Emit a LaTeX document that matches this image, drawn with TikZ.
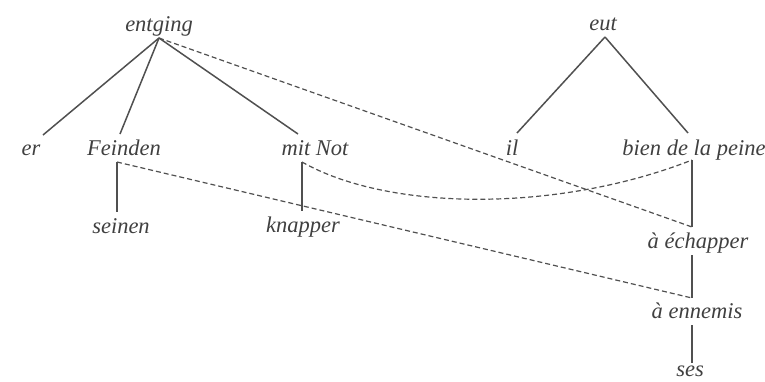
\documentclass[tikz,border=0pt]{standalone}
\usepackage{fontspec}
\setmainfont{Liberation Serif}
\definecolor{txt}{HTML}{404040}
\definecolor{ln}{HTML}{505050}
\begin{document}
\begin{tikzpicture}[x=1pt,y=-1pt,
  word/.style={anchor=base,inner sep=0pt,outer sep=0pt,text height=16pt,text depth=5pt,
    font=\fontsize{22.5}{26}\selectfont\itshape,text=txt},
  tie/.style={draw=ln,line width=1.5pt},
  corr/.style={draw=ln,line width=1.2pt,dash pattern=on 5pt off 3pt}]
\useasboundingbox (0,0) rectangle (765,381);
% nodes
\node[word] (entging) at (159,31) {entging};
\node[word] (eut) at (603,30) {eut};
\node[word] (er) at (31,155) {er};
\node[word] (Feinden) at (124,155) {Feinden};
\node[word] (mitNot) at (315,155) {mit Not};
\node[word] (il) at (512,155) {il};
\node[word] (bien) at (694,155) {bien de la peine};
\node[word] (seinen) at (121,233) {seinen};
\node[word] (knapper) at (303,232) {knapper};
\node[word] (echapper) at (698,248) {à échapper};
\node[word] (ennemis) at (697,318) {à ennemis};
\node[word,text depth=0pt] (ses) at (690,376) {ses};
% attachment points
\coordinate (entA) at ([yshift=-2pt]entging.south);
\coordinate (eutA) at ([xshift=2pt,yshift=-2pt]eut.south);
\coordinate (feiB) at ([xshift=-7pt,yshift=-2pt]Feinden.south);
\coordinate (mitB) at ([xshift=-13pt,yshift=-2pt]mitNot.south);
\coordinate (bieB) at ([xshift=-2pt]bien.south);
\coordinate (echT) at ([xshift=-6pt,yshift=5pt]echapper.north);
\coordinate (ennT) at ([xshift=-5pt,yshift=4pt]ennemis.north);
% German tree
\draw[tie] (entA) -- ([xshift=12pt,yshift=4pt]er.north);
\draw[tie] (entA) -- ([xshift=-4pt,yshift=5pt]Feinden.north);
\draw[tie] (entA) -- ([xshift=-17pt,yshift=5pt]mitNot.north);
\draw[tie] (feiB) -- ([xshift=-4pt,yshift=5pt]seinen.north);
\draw[tie] (mitB) -- ([xshift=-1pt,yshift=5pt]knapper.north);
% French tree
\draw[tie] (eutA) -- ([xshift=5pt,yshift=6pt]il.north);
\draw[tie] (eutA) -- ([xshift=-6pt,yshift=6pt]bien.north);
\draw[tie] (bieB) -- (echT);
\draw[tie] ([xshift=-6pt,yshift=-2pt]echapper.south) -- (ennT);
\draw[tie] ([xshift=-5pt,yshift=-2pt]ennemis.south) -- ([xshift=2pt,yshift=-3pt]ses.north);
% correspondences
\draw[corr] (entA) -- (echT);
\draw[corr] (feiB) -- (ennT);
\draw[corr] (mitB) .. controls (390,212) and (560,212) .. (bieB);
\end{tikzpicture}
\end{document}
